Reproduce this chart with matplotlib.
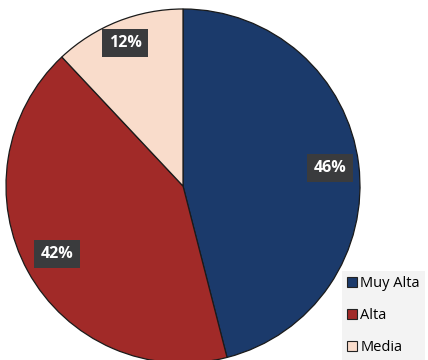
import matplotlib
matplotlib.use("Agg")
import matplotlib.pyplot as plt
from matplotlib.patches import Patch

categorias = ["Muy Alta", "Alta", "Media"]
porcentajes = [46, 42, 12]
colores = ["#1b3a6b", "#a12a28", "#f9dccb"]
# label centres (x, y) in pixel space, y measured from the top
pos_etiquetas = [(330, 168), (57, 254), (125, 43)]

W, H = 428, 360
fig = plt.figure(figsize=(W / 100, H / 100), dpi=100)
ax = fig.add_axes([0, 0, 1, 1])

cx, cy, r = 183, H - 186, 177
ax.pie(porcentajes, colors=colores, startangle=90, counterclock=False,
       center=(cx, cy), radius=r, frame=True,
       wedgeprops=dict(edgecolor="#1a1a1a", linewidth=0.9))
ax.set_xlim(0, W)
ax.set_ylim(0, H)
ax.set_aspect("equal")
ax.axis("off")

for val, (x, y) in zip(porcentajes, pos_etiquetas):
    ax.text(x, H - y, f"{val}%", ha="center", va="center", color="white",
            fontsize=11.5, fontweight="bold", family="Open Sans",
            bbox=dict(boxstyle="square,pad=0.4", facecolor="#3a3b3d",
                      edgecolor="none"))

handles = [Patch(facecolor=c, edgecolor="#222222", linewidth=0.8) for c in colores]
leg = fig.legend(handles, categorias, loc="lower right",
                 bbox_to_anchor=(1.01, -0.02), frameon=True, fancybox=False,
                 facecolor="#f3f3f3", edgecolor="none", framealpha=1,
                 prop=dict(family="Open Sans", size=10.5),
                 handlelength=0.7, handleheight=0.7, handletextpad=0.2,
                 labelspacing=1.15, borderpad=0.35)

fig.savefig("out.png", dpi=100)
